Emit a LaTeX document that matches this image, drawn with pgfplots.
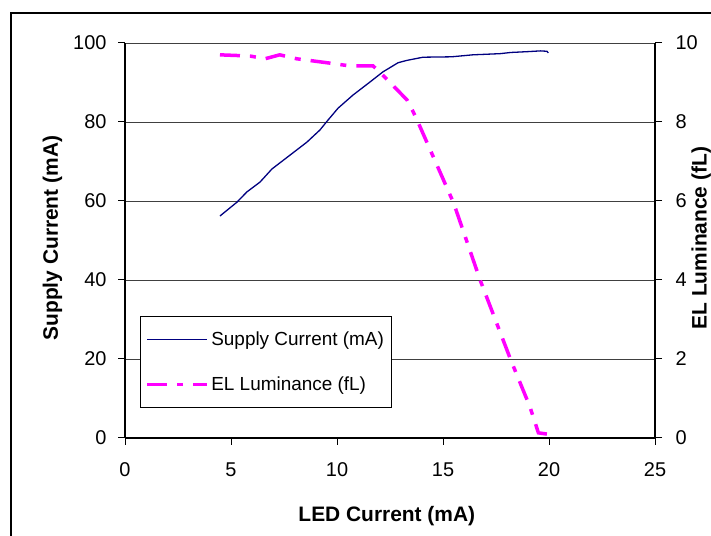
\documentclass[border=0pt]{standalone}
\usepackage{fontspec}
\setmainfont{Liberation Sans}
\usepackage{pgfplots}
\pgfplotsset{compat=1.18}
\definecolor{supplyblue}{RGB}{0,0,128}
\definecolor{elmag}{RGB}{255,0,255}

\pgfplotsset{
  chartbase/.style={
    at={(125bp,98bp)}, anchor=south west,
    scale only axis, width=530bp, height=395bp,
    xmin=0, xmax=25,
    axis line style={-, black, line width=1.1bp},
    tick align=outside,
    major tick length=7bp,
    tick style={black, line width=1bp},
    tick label style={font=\fontsize{20}{22}\selectfont},
    label style={font=\bfseries\fontsize{21}{23}\selectfont},
    /pgf/number format/assume math mode=true,
  },
}

\begin{document}
\begin{tikzpicture}[x=1bp,y=1bp]
\useasboundingbox (0,0) rectangle (711,536);
\draw[line width=1.2bp] (11,-10) |- (730,523);

\begin{axis}[
  chartbase,
  ymin=0, ymax=100,
  axis x line*=bottom,
  axis y line*=left,
  xtick={0,5,...,25},
  ytick={0,20,...,100},
  xticklabel style={yshift=-14bp},
  yticklabel style={xshift=-8bp},
  ymajorgrids=true,
  grid style={black!75, line width=0.8bp},
  xlabel={LED Current (mA)},
  ylabel={Supply Current (mA)},
  xlabel style={at={(axis description cs:0.494,-0.197)}, anchor=center},
  ylabel style={at={(axis description cs:-0.137,0.506)}, anchor=center, rotate=0},
]
\addplot[supplyblue, line width=1.3bp] coordinates {
  (4.48,56.2) (5.28,59.7) (5.75,62.3) (6.37,64.8) (6.93,68.1) (7.78,71.6)
  (8.58,74.9) (9.2,78.0) (9.5,80.0) (10.05,83.5) (10.75,86.8) (11.55,90.1)
  (12.17,92.7) (12.88,95.0) (13.3,95.6) (14.06,96.4) (15.4,96.5) (16.4,97.0)
  (17.7,97.3) (18.2,97.6) (18.96,97.8) (19.6,98.0) (19.9,97.9) (19.97,97.5)
};
\end{axis}

\begin{axis}[
  chartbase,
  ymin=0, ymax=10,
  axis x line=none,
  axis y line*=right,
  ytick={0,2,...,10},
  yticklabel style={xshift=10bp},
  ylabel={EL Luminance (fL)},
  ylabel style={at={(axis description cs:1.087,0.506)}, anchor=center, rotate=0},
  legend style={at={(rel axis cs:0.028,0.076)}, anchor=south west,
    draw=black, line width=1bp, fill=white,
    font=\fontsize{19}{21}\selectfont,
    inner xsep=5bp, inner ysep=13bp, row sep=25bp,
    nodes={inner sep=2.5bp}},
  legend cell align=left,
  legend image code/.code={\draw[#1] (0bp,0bp) -- (60bp,0bp);},
]
\addlegendimage{supplyblue, line width=1.3bp}
\addlegendentry{Supply Current (mA)}
\addplot[elmag, line width=3.5bp, dash pattern=on 20bp off 10bp on 6bp off 10bp] coordinates {
  (4.48,9.70) (5.9,9.67) (6.6,9.6) (7.3,9.7) (8.1,9.6) (9.67,9.49)
  (10.6,9.42) (11.7,9.42) (12.0,9.27) (12.5,9.0) (13.3,8.56) (13.6,8.25)
  (13.9,7.9) (15.5,5.95) (16.75,4.0) (18.2,1.97) (19.1,0.79) (19.5,0.13) (19.9,0.1)
};
\addlegendentry{EL Luminance (fL)}
\end{axis}
\end{tikzpicture}
\end{document}
